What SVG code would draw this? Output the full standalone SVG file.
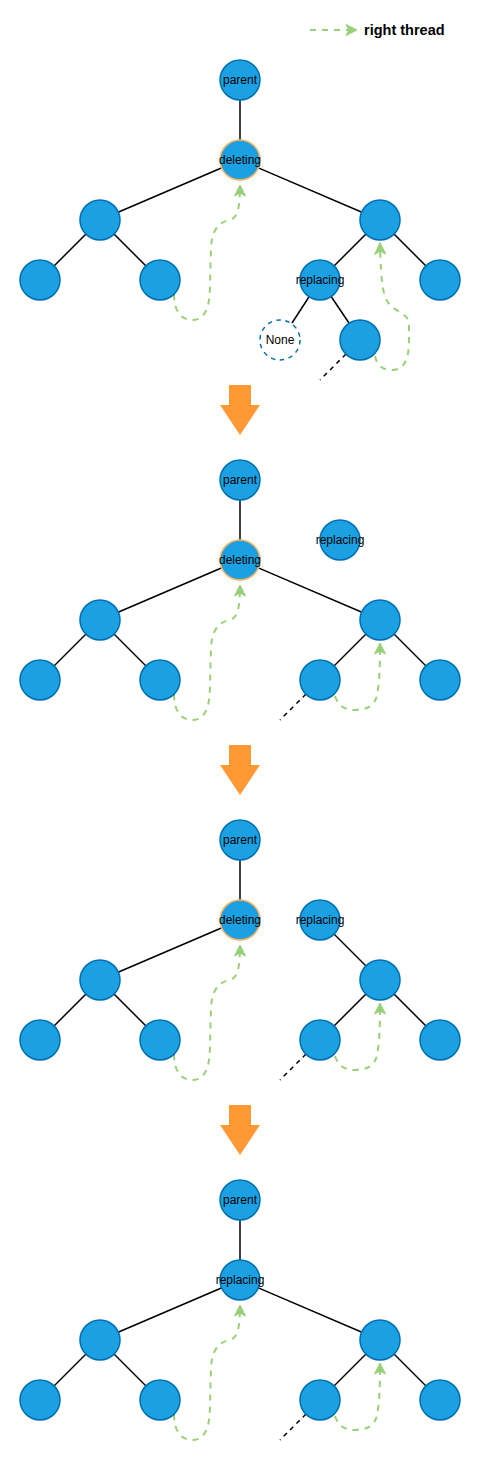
<svg xmlns="http://www.w3.org/2000/svg" width="481" height="1461" viewBox="0 0 481 1461">
<defs>
<style>
.n{fill:#1BA1E2;stroke:#006EAF;stroke-width:1.5}
.del{fill:#1BA1E2;stroke:#FFB366;stroke-width:1.5}
.none{fill:#FFFFFF;stroke:#006EAF;stroke-width:1.5;stroke-dasharray:4.5 4.5}
.e{stroke:#000;stroke-width:1.5;fill:none}
.ed{stroke:#000;stroke-width:1.5;fill:none;stroke-dasharray:4.5 4.5}
.t{stroke:#97D077;stroke-width:2;fill:none;stroke-dasharray:6 6}
.lb{font-family:"Liberation Sans",Arial,sans-serif;font-size:12px;fill:#000;text-anchor:middle}
.big{fill:#FF9933}
</style>
<marker id="ah" viewBox="-12 -6 13 12" refX="0" refY="0" markerWidth="13" markerHeight="12" markerUnits="userSpaceOnUse" orient="auto">
<path d="M0,0 L-11,-5.5 L-8,0 L-11,5.5 Z" fill="#97D077" stroke="#97D077" stroke-width="1"/>
</marker>
</defs>
<rect width="481" height="1461" fill="#FFFFFF"/>

<g id="legend">
<path class="t" d="M310,30 L357,30" marker-end="url(#ah)"/>
<text x="364" y="35" font-family="'Liberation Sans',Arial,sans-serif" font-size="14.5" font-weight="bold" fill="#000">right thread</text>
</g>

<!-- Stage 1 -->
<g id="stage1">
<g id="connectors1">
<line class="e" x1="240" y1="80" x2="240" y2="160"/>
<line class="e" x1="240" y1="160" x2="100" y2="220"/>
<line class="e" x1="240" y1="160" x2="380" y2="220"/>
<line class="e" x1="100" y1="220" x2="40" y2="280"/>
<line class="e" x1="100" y1="220" x2="160" y2="280"/>
<line class="e" x1="380" y1="220" x2="320" y2="280"/>
<line class="e" x1="380" y1="220" x2="440" y2="280"/>
<line class="e" x1="320" y1="280" x2="292" y2="323"/>
<line class="e" x1="320" y1="280" x2="349" y2="323"/>
<line class="ed" x1="346" y1="354" x2="320" y2="380"/>
<path class="t" d="M174,294 C174,310 180,320 193,320 C206,320 210,305 210,285 L211,248 C212,228 220,222 230,220 C237,218 240,210 240,185" marker-end="url(#ah)"/>
<path class="t" d="M375,356 C377,366 383,370 392,370 C405,370 409,358 409,340 L409,325 C409,313 396,312 390,305 C383,297 381,285 380,243" marker-end="url(#ah)"/>
</g>
<g id="s1-parent"><circle class="n" cx="240" cy="80" r="20"/><text class="lb" x="240" y="84">parent</text></g>
<g id="s1-deleting"><circle class="del" cx="240" cy="160" r="20"/><text class="lb" x="240" y="164">deleting</text></g>
<g id="s1-l"><circle class="n" cx="100" cy="220" r="20"/></g>
<g id="s1-r"><circle class="n" cx="380" cy="220" r="20"/></g>
<g id="s1-ll"><circle class="n" cx="40" cy="280" r="20"/></g>
<g id="s1-lr"><circle class="n" cx="160" cy="280" r="20"/></g>
<g id="s1-replacing"><circle class="n" cx="320" cy="280" r="20"/><text class="lb" x="320" y="284">replacing</text></g>
<g id="s1-rr"><circle class="n" cx="440" cy="280" r="20"/></g>
<g id="s1-none"><circle class="none" cx="280" cy="340" r="20"/><text class="lb" x="280" y="344">None</text></g>
<g id="s1-rlr"><circle class="n" cx="360" cy="340" r="20"/></g>
</g>

<g id="arrow1"><path class="big" d="M229,385 L251,385 L251,405 L260,405 L240,435 L220,405 L229,405 Z"/></g>

<!-- Stage 2 -->
<g id="stage2" transform="translate(0,400)">
<g id="connectors2">
<line class="e" x1="240" y1="80" x2="240" y2="160"/>
<line class="e" x1="240" y1="160" x2="100" y2="220"/>
<line class="e" x1="240" y1="160" x2="380" y2="220"/>
<line class="e" x1="100" y1="220" x2="40" y2="280"/>
<line class="e" x1="100" y1="220" x2="160" y2="280"/>
<line class="e" x1="380" y1="220" x2="320" y2="280"/>
<line class="e" x1="380" y1="220" x2="440" y2="280"/>
<line class="ed" x1="306" y1="294" x2="280" y2="320"/>
<path class="t" d="M174,294 C174,310 180,320 193,320 C206,320 210,305 210,285 L211,248 C212,228 220,222 230,220 C237,218 240,210 240,185" marker-end="url(#ah)"/>
<path class="t" d="M335,296 C338,306 345,310 355,310 C368,310 375,305 377,295 C379,285 380,275 380,243" marker-end="url(#ah)"/>
</g>
<g id="s2-parent"><circle class="n" cx="240" cy="80" r="20"/><text class="lb" x="240" y="84">parent</text></g>
<g id="s2-deleting"><circle class="del" cx="240" cy="160" r="20"/><text class="lb" x="240" y="164">deleting</text></g>
<g id="s2-replacing"><circle class="n" cx="340" cy="140" r="20"/><text class="lb" x="340" y="144">replacing</text></g>
<g id="s2-l"><circle class="n" cx="100" cy="220" r="20"/></g>
<g id="s2-r"><circle class="n" cx="380" cy="220" r="20"/></g>
<g id="s2-ll"><circle class="n" cx="40" cy="280" r="20"/></g>
<g id="s2-lr"><circle class="n" cx="160" cy="280" r="20"/></g>
<g id="s2-rl"><circle class="n" cx="320" cy="280" r="20"/></g>
<g id="s2-rr"><circle class="n" cx="440" cy="280" r="20"/></g>
</g>

<g id="arrow2"><path class="big" d="M229,745 L251,745 L251,765 L260,765 L240,795 L220,765 L229,765 Z"/></g>

<!-- Stage 3 -->
<g id="stage3" transform="translate(0,760)">
<g id="connectors3">
<line class="e" x1="240" y1="80" x2="240" y2="160"/>
<line class="e" x1="240" y1="160" x2="100" y2="220"/>
<line class="e" x1="320" y1="160" x2="380" y2="220"/>
<line class="e" x1="100" y1="220" x2="40" y2="280"/>
<line class="e" x1="100" y1="220" x2="160" y2="280"/>
<line class="e" x1="380" y1="220" x2="320" y2="280"/>
<line class="e" x1="380" y1="220" x2="440" y2="280"/>
<line class="ed" x1="306" y1="294" x2="280" y2="320"/>
<path class="t" d="M174,294 C174,310 180,320 193,320 C206,320 210,305 210,285 L211,248 C212,228 220,222 230,220 C237,218 240,210 240,185" marker-end="url(#ah)"/>
<path class="t" d="M335,296 C338,306 345,310 355,310 C368,310 375,305 377,295 C379,285 380,275 380,243" marker-end="url(#ah)"/>
</g>
<g id="s3-parent"><circle class="n" cx="240" cy="80" r="20"/><text class="lb" x="240" y="84">parent</text></g>
<g id="s3-deleting"><circle class="del" cx="240" cy="160" r="20"/><text class="lb" x="240" y="164">deleting</text></g>
<g id="s3-replacing"><circle class="n" cx="320" cy="160" r="20"/><text class="lb" x="320" y="164">replacing</text></g>
<g id="s3-l"><circle class="n" cx="100" cy="220" r="20"/></g>
<g id="s3-r"><circle class="n" cx="380" cy="220" r="20"/></g>
<g id="s3-ll"><circle class="n" cx="40" cy="280" r="20"/></g>
<g id="s3-lr"><circle class="n" cx="160" cy="280" r="20"/></g>
<g id="s3-rl"><circle class="n" cx="320" cy="280" r="20"/></g>
<g id="s3-rr"><circle class="n" cx="440" cy="280" r="20"/></g>
</g>

<g id="arrow3"><path class="big" d="M229,1105 L251,1105 L251,1125 L260,1125 L240,1155 L220,1125 L229,1125 Z"/></g>

<!-- Stage 4 -->
<g id="stage4" transform="translate(0,1120)">
<g id="connectors4">
<line class="e" x1="240" y1="80" x2="240" y2="160"/>
<line class="e" x1="240" y1="160" x2="100" y2="220"/>
<line class="e" x1="240" y1="160" x2="380" y2="220"/>
<line class="e" x1="100" y1="220" x2="40" y2="280"/>
<line class="e" x1="100" y1="220" x2="160" y2="280"/>
<line class="e" x1="380" y1="220" x2="320" y2="280"/>
<line class="e" x1="380" y1="220" x2="440" y2="280"/>
<line class="ed" x1="306" y1="294" x2="280" y2="320"/>
<path class="t" d="M174,294 C174,310 180,320 193,320 C206,320 210,305 210,285 L211,248 C212,228 220,222 230,220 C237,218 240,210 240,185" marker-end="url(#ah)"/>
<path class="t" d="M335,296 C338,306 345,310 355,310 C368,310 375,305 377,295 C379,285 380,275 380,243" marker-end="url(#ah)"/>
</g>
<g id="s4-parent"><circle class="n" cx="240" cy="80" r="20"/><text class="lb" x="240" y="84">parent</text></g>
<g id="s4-replacing"><circle class="n" cx="240" cy="160" r="20"/><text class="lb" x="240" y="164">replacing</text></g>
<g id="s4-l"><circle class="n" cx="100" cy="220" r="20"/></g>
<g id="s4-r"><circle class="n" cx="380" cy="220" r="20"/></g>
<g id="s4-ll"><circle class="n" cx="40" cy="280" r="20"/></g>
<g id="s4-lr"><circle class="n" cx="160" cy="280" r="20"/></g>
<g id="s4-rl"><circle class="n" cx="320" cy="280" r="20"/></g>
<g id="s4-rr"><circle class="n" cx="440" cy="280" r="20"/></g>
</g>
</svg>
